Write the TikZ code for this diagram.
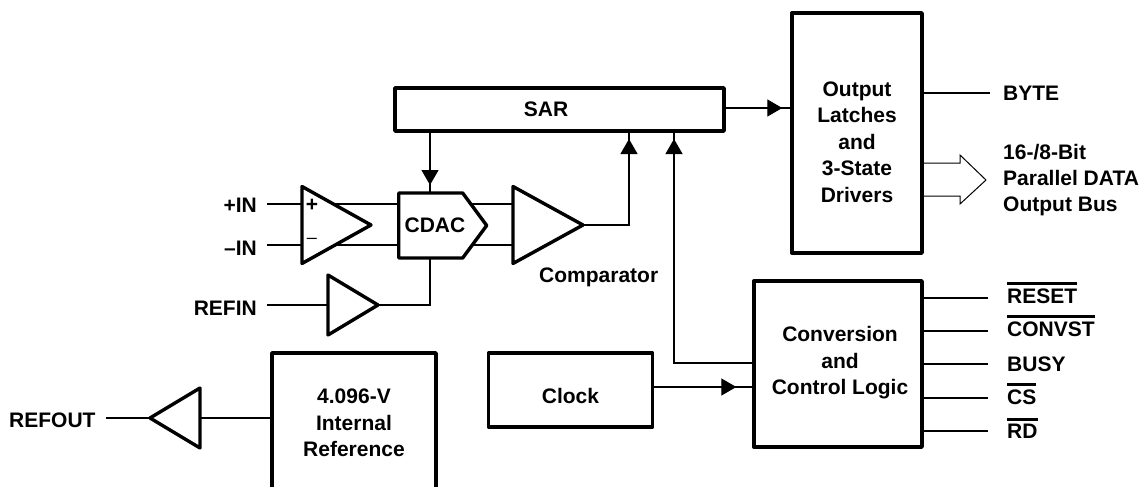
\documentclass[tikz,border=0pt]{standalone}
\usepackage{fontspec}
\setmainfont{Liberation Sans}[Ligatures=TeX]
\usetikzlibrary{arrows.meta,shapes.geometric,shapes.symbols,decorations.markings,backgrounds}
\newcommand\ovl[1]{\vbox{\hrule height 3pt \kern 3pt \hbox{#1}}}
\tikzset{
  x=1pt,y=-1pt,
  every node/.style={font=\fontsize{21}{26.4}\selectfont\bfseries},
  thick line/.style={line width=3.4pt,line join=round},
  thin line/.style={line width=1.2pt,draw=black},
  blockbox/.style={draw,thick line,fill=white,align=center,inner sep=0pt,rectangle},
  amp/.style={draw,thick line,fill=white,isosceles triangle,isosceles triangle stretches,inner sep=0pt,outer sep=0pt,anchor=lower side},
  lab/.style={inner sep=0pt,anchor=base west},
  labr/.style={inner sep=0pt,anchor=base east},
  midhead/.style={postaction={decorate},decoration={markings,mark=at position #1 with {\arrow{Triangle[length=15pt,width=17pt]}}}}
}
\begin{document}
\begin{tikzpicture}
\useasboundingbox (0,0) rectangle (1140,487);
\clip (0,0) rectangle (1140,487);
% blocks
\node[blockbox,minimum width=329pt,minimum height=43pt] (sar) at (559.5,109.5) {};
\node[inner sep=0pt] (sartxt) at (546,109.5) {SAR};
\node[blockbox,minimum width=130pt,minimum height=240pt] (latch) at (857,133) {};
\node[inner sep=0pt,align=center] (latchtxt) at (857,142) {Output\\Latches\\and\\3-State\\Drivers};
\node[blockbox,minimum width=168pt,minimum height=166pt] (ctl) at (838,364) {};
\node[inner sep=0pt,align=center] (ctltxt) at (840,363) {Conversion\\and\\Control Logic};
\node[blockbox,minimum width=164pt,minimum height=74pt] (clk) at (570.5,390) {};
\node[inner sep=0pt] (clktxt) at (570.5,396) {Clock};
\node[blockbox,minimum width=164pt,minimum height=140pt] (ref) at (354,423) {4.096-V\\Internal\\Reference};
% amplifiers
\node[amp,minimum height=69pt,minimum width=77pt] (opamp) at (302,225) {};
\node[amp,minimum height=70pt,minimum width=77pt] (comp) at (513,225) {};
\node[amp,minimum height=50pt,minimum width=60pt] (refbuf) at (328,305) {};
\node[amp,shape border rotate=180,minimum height=50pt,minimum width=60pt] (outbuf) at (200,418) {};
\node[draw,thick line,fill=white,signal,signal to=east,signal from=nowhere,signal pointer angle=107,inner sep=0pt,minimum width=88pt,minimum height=65pt,anchor=west] (cdac) at (397,225.5) {};
\node[inner sep=0pt] (cdactxt) at (435,225.5) {CDAC};
\node[inner sep=0pt] (plus) at (312,205) {+};
\node[inner sep=0pt,font=\fontsize{18}{20}\selectfont] (minus) at (312,241) {–};
% labels
\node[labr] (tplus) at (257,212) {+IN};
\node[labr] (tminus) at (257,255) {–IN};
\node[labr] (trefin) at (257,315) {REFIN};
\node[lab] (trefout) at (9,427) {REFOUT};
\node[lab] (tcomp) at (539,282) {Comparator};
\node[lab] (tbyte) at (1003,100) {BYTE};
\node[lab,align=left,anchor=west] (tbus) at (1003,180) {16-/8-Bit\\Parallel DATA\\Output Bus};
\node[lab] (treset) at (1007,303) {\ovl{RESET}};
\node[lab] (tconv) at (1007,336) {\ovl{CONVST}};
\node[lab] (tbusy) at (1007,371) {BUSY};
\node[lab] (tcs) at (1007,404) {\ovl{CS}};
\node[lab] (trd) at (1007,438) {\ovl{RD}};
% free ends
\coordinate (fplus) at (267,204);
\coordinate (fminus) at (267,245);
\coordinate (frefin) at (267,305);
\coordinate (frefout) at (106,418);
\coordinate (fbyte) at (990,93);
\coordinate (freset) at (988,298);
\coordinate (fconv) at (988,331);
\coordinate (fbusy) at (988,364);
\coordinate (fcs) at (988,398);
\coordinate (frd) at (988,431);
\coordinate (sarA) at (629,131);
\coordinate (sarB) at (674,131);
\coordinate (cdacB) at (430,258);
\coordinate (cdacT) at (430,193);
\coordinate (sarD) at (430,131);
\begin{scope}[on background layer]
\draw[thin line] (fplus) -- (fplus -| cdac.west);
\draw[thin line] (fminus) -- (fminus -| cdac.west);
\draw[thin line] (fplus -| cdac.west) -- (fplus -| comp.lower side);
\draw[thin line] (fminus -| cdac.west) -- (fminus -| comp.lower side);
\draw[thin line] (frefin) -- (refbuf.lower side);
\draw[thin line] (refbuf.apex) -| (cdacB);
\draw[thin line] (frefout) -- (outbuf.apex);
\draw[thin line] (outbuf.lower side) -- (outbuf.lower side -| ref.west);
\draw[thin line] (fbyte) -- (fbyte -| latch.east);
\draw[thin line] (freset) -- (freset -| ctl.east);
\draw[thin line] (fconv) -- (fconv -| ctl.east);
\draw[thin line] (fbusy) -- (fbusy -| ctl.east);
\draw[thin line] (fcs) -- (fcs -| ctl.east);
\draw[thin line] (frd) -- (frd -| ctl.east);
\end{scope}
\draw[thin line,midhead=-8pt] (sarD) -- (cdacT);
\draw[thin line,midhead=-8pt] (comp.apex) -| (sarA);
\draw[thin line,midhead=-8pt] (ctl.west |- 0,363) -| (sarB);
\draw[thin line,midhead=-8pt] (sar.east |- 0,108) -- (latch.west |- 0,108);
\draw[thin line,midhead=-16pt] (clk.east |- 0,387) -- (ctl.west |- 0,387);
\draw[line width=1pt,line join=miter] (latch.east |- 0,163) -- (960,163) -- (960,155) -- (986,180) -- (960,204) -- (960,196) -- (latch.east |- 0,196);
\end{tikzpicture}
\end{document}
